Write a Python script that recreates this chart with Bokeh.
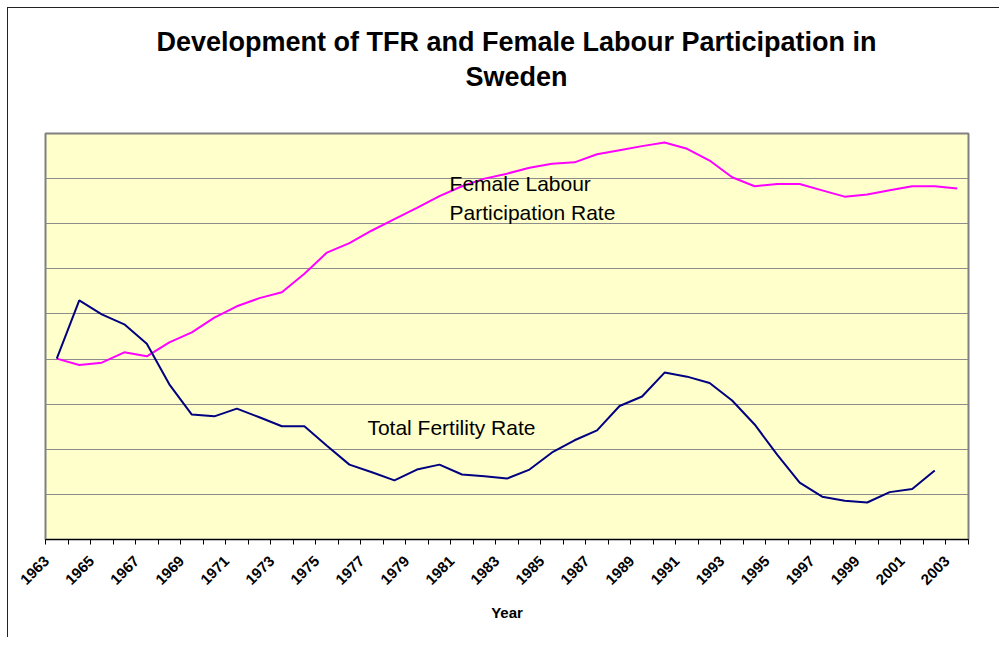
from bokeh.plotting import figure
from bokeh.models import Title, Label, FixedTicker, ColumnDataSource, CustomJSTickFormatter
from bokeh.embed import file_html
from bokeh.resources import INLINE
import math

# ---- data (y in relative chart units, grid step = 10) ----
years = list(range(1963, 2004))
flp = [40.1, 38.7, 39.2, 41.5, 40.6, 43.7, 45.9, 49.2, 51.7, 53.5,
       54.8, 58.9, 63.6, 65.7, 68.5, 71.0, 73.5, 76.1, 78.3, 80.0,
       81.1, 82.4, 83.3, 83.6, 85.4, 86.3, 87.2, 88.0, 86.6, 84.0,
       80.3, 78.3, 78.8, 78.8, 77.4, 76.0, 76.5, 77.4, 78.3, 78.3,
       77.8]
tfr_years = list(range(1963, 2003))
tfr = [40.1, 53.0, 49.9, 47.7, 43.4, 34.4, 27.7, 27.3, 29.0, 27.1,
       25.1, 25.1, 20.8, 16.6, 14.9, 13.1, 15.5, 16.6, 14.4, 14.0,
       13.5, 15.5, 19.3, 22.0, 24.2, 29.6, 31.7, 37.0, 36.1, 34.7,
       30.8, 25.5, 18.8, 12.6, 9.5, 8.6, 8.2, 10.5, 11.2, 15.3]
label_years = list(range(1963, 2004, 2))
grid_levels = [10, 20, 30, 40, 50, 60, 70, 80]
title_lines = ["Development of TFR and Female Labour Participation in", "Sweden"]

FONT = "Liberation Sans"

p = figure(width=992, height=630, output_backend="svg", toolbar_location=None,
           x_range=(1962.5, 2003.5), y_range=(0, 90),
           min_border_left=37, min_border_right=32, min_border_top=125,
           min_border_bottom=99)
p.styles = {"margin-left": "7px", "margin-top": "7px",
            "border-left": "1px solid #222", "border-top": "1px solid #222"}
p.background_fill_color = "#FFFFCC"
p.border_fill_color = "white"
p.outline_line_color = "#808080"
p.outline_line_width = 2

# panels above the frame, nearest first: blank spacer, second title line, first line
p.add_layout(Title(text=" ", text_font_size="10px", standoff=28), "above")
p.add_layout(Title(text=title_lines[1], align="left", offset=420, text_font=FONT,
                   text_font_size="27px", text_font_style="bold",
                   text_color="black", standoff=2), "above")
p.add_layout(Title(text=title_lines[0], align="left", offset=111, text_font=FONT,
                   text_font_size="27px", text_font_style="bold",
                   text_color="black", standoff=4), "above")

# y axis hidden, grid only
p.yaxis.visible = False
p.ygrid.ticker = FixedTicker(ticks=grid_levels)
p.ygrid.grid_line_color = "#8C8C8C"
p.ygrid.grid_line_width = 1
p.xgrid.visible = False

# x axis: labels slightly left of each category centre, ticks between categories
xa = p.xaxis[0]
xa.ticker = FixedTicker(ticks=[y - 0.45 for y in label_years],
                        minor_ticks=[y - 0.5 for y in years] + [years[-1] + 0.5])
xa.formatter = CustomJSTickFormatter(code="return Math.round(tick).toString();")
xa.major_tick_in = 0
xa.major_tick_out = 0
xa.minor_tick_in = 0
xa.minor_tick_out = 5
xa.minor_tick_line_color = "black"
xa.axis_line_color = "black"
xa.axis_line_width = 1
xa.major_label_orientation = math.pi / 4
xa.major_label_text_font = FONT
xa.major_label_text_font_size = "15px"
xa.major_label_text_font_style = "bold"
xa.major_label_text_color = "black"
xa.major_label_standoff = 14
xa.axis_label = "Year"
xa.axis_label_text_font = FONT
xa.axis_label_text_font_size = "15px"
xa.axis_label_text_font_style = "bold"
xa.axis_label_text_color = "black"
xa.axis_label_standoff = 12

src_f = ColumnDataSource(dict(x=years, y=flp))
src_t = ColumnDataSource(dict(x=tfr_years, y=tfr))
p.line("x", "y", source=src_f, line_color="#FF00FF", line_width=2)
p.line("x", "y", source=src_t, line_color="#000080", line_width=2)

for txt, x, y in [("Female Labour", 1980.45, 76.9),
                  ("Participation Rate", 1980.45, 70.4),
                  ("Total Fertility Rate", 1976.8, 22.8)]:
    p.add_layout(Label(x=x, y=y, text=txt, text_font=FONT,
                       text_font_size="21px", text_color="black",
                       text_baseline="alphabetic", y_offset=9))

open("out.html", "w").write(file_html(p, INLINE))
